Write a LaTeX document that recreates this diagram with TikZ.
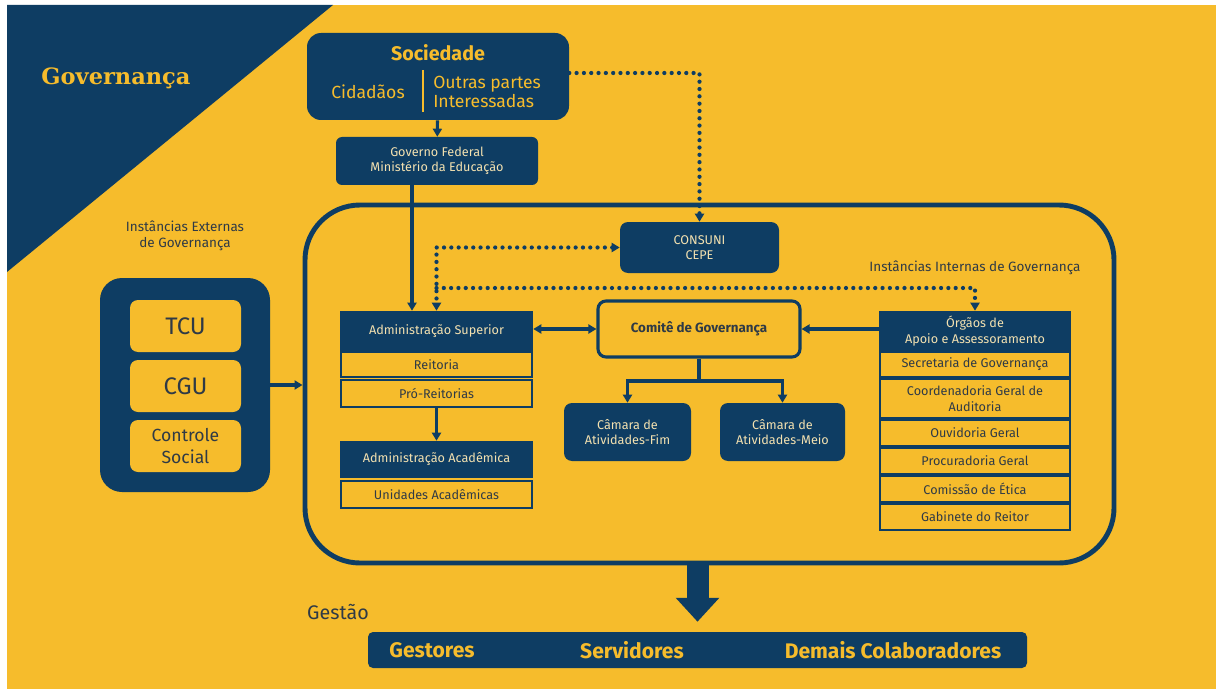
\documentclass[tikz,border=0pt]{standalone}
\usepackage{fontspec}
\setmainfont{Fira Sans}
\newfontfamily\slabfont{DejaVu Serif}
\usetikzlibrary{arrows.meta,positioning}
\definecolor{navy}{HTML}{0E3D63}
\definecolor{gold}{HTML}{F6BC2C}
\definecolor{cream}{HTML}{F3E1B0}
\definecolor{ink}{HTML}{2F3A46}
\newdimen\pu \pu=0.025cm

\begin{document}
\begin{tikzpicture}[x=0.025cm, y=-0.025cm]
            \tikzstyle{darkbox} = [fill=navy, rounded corners=8\pu, inner sep=0, align=center, text=cream, font=\fontsize{9}{11}\selectfont]
            \tikzstyle{head} = [fill=navy, inner sep=0, align=center, text=cream, minimum width=193\pu, font=\fontsize{9}{11}\selectfont]
            \tikzstyle{item} = [draw=navy, line width=1.5pt, fill=gold, inner sep=0, align=center, text=ink, minimum width=191\pu, font=\fontsize{9}{11}\selectfont]
            \tikzstyle{lightbox} = [fill=gold, rounded corners=8\pu, inner sep=0, align=center, text=ink, minimum width=111\pu, minimum height=52\pu]
            \tikzstyle{arr} = [-{Triangle[width=6.4pt, length=5.7pt]}, line width=2.2pt, draw=navy]
            \tikzstyle{dotarr} = [line width=3pt, draw=navy, line cap=round, dash pattern=on 0pt off 5.2pt]
            \tikzstyle{label} = [inner sep=0, align=center, text=ink, font=\fontsize{9.6}{11.5}\selectfont]
            \useasboundingbox (0, 0) rectangle (1216, 689);
            % background
            \fill[white] (0, 0) rectangle (1216, 689);
            \fill[gold] (7, 5) rectangle (1216, 689);
            \fill[navy] (7, 5) -- (333, 5) -- (7, 272) -- cycle;
            \node[text=gold, font=\slabfont\bfseries\fontsize{16}{18}\selectfont] (title) at (116, 78) {Governança};

            % sociedade and governo
            \node[fill=navy, rounded corners=14\pu, minimum width=262\pu, minimum height=87\pu] (soc) at (438, 76.5) {};
            \node[text=gold, font=\bfseries\fontsize{14}{16}\selectfont] (soctitle) at (438, 53) {Sociedade};
            \draw[gold, line width=1.6pt] (423, 70) -- (423, 112);
            \node[text=gold, font=\fontsize{12.5}{14}\selectfont] (cid) at (368, 92) {Cidadãos};
            \node[text=gold, anchor=west, align=left, inner sep=0, font=\fontsize{12.5}{14}\selectfont] (outras) at (433, 92) {Outras partes\\Interessadas};
            \node[darkbox, rounded corners=6\pu, minimum width=202\pu, minimum height=48\pu] (gov) at (437, 161) {Governo Federal\\Ministério da Educação};
            \draw[arr] (soc) -- (gov);

            % internal instances
            \node[draw=navy, line width=3.5pt, rounded corners=55\pu, minimum width=809\pu, minimum height=358\pu] (inner) at (709.5, 384) {};
            \node[label] (intlabel) at (975, 268) {Instâncias Internas de Governança};
            \node[darkbox, minimum width=159\pu, minimum height=51\pu] (consuni) at (699.5, 247.5) {CONSUNI\\CEPE};

            \node[head, minimum height=40\pu] (admsup) at (436.5, 331) {Administração Superior};
            \node[item, minimum height=25\pu] (reit) at (436.5, 364.5) {Reitoria};
            \node[item, minimum height=27\pu] (proreit) at (436.5, 393.5) {Pró-Reitorias};
            \node[head, minimum height=37\pu] (admacad) at (436.5, 459.5) {Administração Acadêmica};
            \node[item, minimum height=27\pu] (unid) at (436.5, 494.5) {Unidades Acadêmicas};

            \node[draw=navy, line width=2.2pt, rounded corners=8\pu, fill=gold, text=ink, minimum width=202\pu, minimum height=56\pu, font=\bfseries\fontsize{9.5}{11}\selectfont] (comite) at (699, 329) {Comitê de Governança};
            \node[darkbox, minimum width=127\pu, minimum height=58\pu] (camfim) at (627.5, 432) {Câmara de\\Atividades-Fim};
            \node[darkbox, minimum width=125\pu, minimum height=58\pu] (cammeio) at (782.5, 432) {Câmara de\\Atividades-Meio};

            \node[head, minimum width=192\pu, minimum height=40\pu] (orgaos) at (975, 331) {Órgãos de\\Apoio e Assessoramento};
            \node[item, minimum width=190\pu, minimum height=25\pu] (secgov) at (975, 364.5) {Secretaria de Governança};
            \node[item, minimum width=190\pu, minimum height=39\pu] (audit) at (975, 398.5) {Coordenadoria Geral de\\Auditoria};
            \node[item, minimum width=190\pu, minimum height=26\pu] (ouvid) at (975, 433) {Ouvidoria Geral};
            \node[item, minimum width=190\pu, minimum height=26\pu] (procur) at (975, 461) {Procuradoria Geral};
            \node[item, minimum width=190\pu, minimum height=26\pu] (etica) at (975, 489) {Comissão de Ética};
            \node[item, minimum width=190\pu, minimum height=26\pu] (gabin) at (975, 517) {Gabinete do Reitor};

            % external instances
            \node[label] (extlabel) at (185, 236) {Instâncias Externas\\de Governança};
            \node[fill=navy, rounded corners=22\pu, minimum width=170\pu, minimum height=214\pu] (ext) at (185, 385) {};
            \node[lightbox, font=\fontsize{17}{19}\selectfont] (tcu) at (185.5, 326) {TCU};
            \node[lightbox, font=\fontsize{17}{19}\selectfont] (cgu) at (185.5, 386) {CGU};
            \node[lightbox, font=\fontsize{12.5}{15}\selectfont] (social) at (185.5, 446) {Controle\\Social};

            % gestao
            \node[text=ink, font=\fontsize{14}{16}\selectfont] (gestao) at (338, 612) {Gestão};
            \node[fill=navy, rounded corners=5\pu, minimum width=659\pu, minimum height=36\pu] (bar) at (697.5, 650) {};
            \node[text=gold, font=\bfseries\fontsize{15}{17}\selectfont] (gestores) at (432, 650) {Gestores};
            \node[text=gold, font=\bfseries\fontsize{15}{17}\selectfont] (servid) at (632, 650) {Servidores};
            \node[text=gold, font=\bfseries\fontsize{15}{17}\selectfont] (demais) at (893, 650) {Demais Colaboradores};

            % connectors
            \coordinate (split) at (436.5, 288);
            \coordinate (fork) at (699, 381);
            \draw[dotarr, -{Triangle[width=6.4pt, length=5.7pt]}] (soc.east |- 0, 73) -| (consuni.north);
            \draw[dotarr, {Triangle[width=6.4pt, length=5.7pt]}-{Triangle[width=6.4pt, length=5.7pt]}] (consuni.west) -| (admsup.north);
            \draw[dotarr, -{Triangle[width=6.4pt, length=5.7pt]}] (split) -| (orgaos.north);
            \draw[arr] ([xshift=-25\pu]gov.south) -- ([xshift=-25\pu]gov.south |- admsup.north);
            \draw[arr, {Triangle[width=6.4pt, length=5.7pt]}-{Triangle[width=6.4pt, length=5.7pt]}] (admsup.east |- comite.west) -- (comite.west);
            \draw[arr] (orgaos.west |- comite.east) -- (comite.east);
            \draw[navy, line width=2.8pt] (comite.south) -- (fork);
            \draw[arr] (fork) -| (camfim.north);
            \draw[arr] (fork) -| (cammeio.north);
            \draw[arr] (proreit.south) -- (admacad.north);
            \draw[arr] (ext.east) -- (ext.east -| inner.west);
            \draw[navy, line width=22\pu, -{Triangle[width=30pt, length=17pt]}] (bar.north |- inner.south) -- ([yshift=10\pu]bar.north);
        \end{tikzpicture}
\end{document}
